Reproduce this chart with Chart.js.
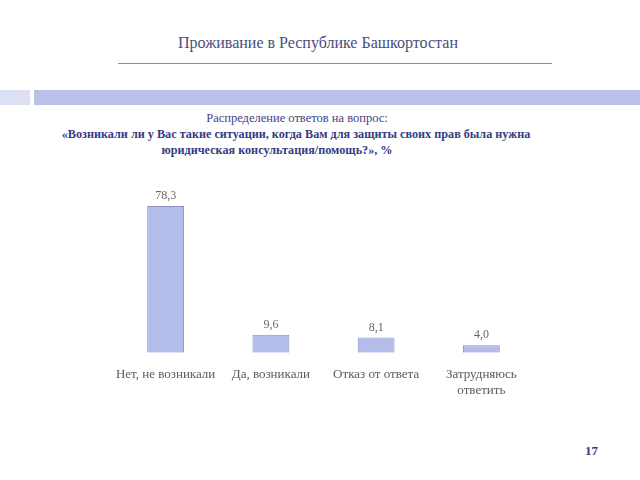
<!DOCTYPE html>
<html><head><meta charset="utf-8">
<script src="https://cdn.jsdelivr.net/npm/chart.js@4"></script>
<style>
html,body{margin:0;padding:0;background:#fff;}
</style></head>
<body>
<div id="wrap" style="position:relative;width:640px;height:480px;overflow:hidden;">
<div style="position:absolute;white-space:nowrap;left:0;width:636px;top:34px;text-align:center;font-family:'Liberation Serif';font-size:16px;color:#4a4e80;">Проживание в Республике Башкортостан</div>
<div style="position:absolute;left:118px;width:434px;top:63px;height:1px;background:#8a8aa8;"></div>
<div style="position:absolute;left:0;top:90px;width:30px;height:15px;background:#dde0f2;"></div>
<div style="position:absolute;left:34px;top:90px;width:606px;height:15px;background:#b8c1ea;"></div>
<div style="position:absolute;white-space:nowrap;left:0;width:594px;top:111px;text-align:center;font-family:'Liberation Serif';font-size:12.5px;color:#3d4585;">Распределение ответов на вопрос:</div>
<div style="position:absolute;white-space:nowrap;left:0;width:592px;top:127px;text-align:center;font-family:'Liberation Serif';font-size:12.2px;font-weight:bold;color:#343c80;">«Возникали ли у Вас такие ситуации, когда Вам для защиты своих прав была нужна</div>
<div style="position:absolute;white-space:nowrap;left:0;width:554px;top:143px;text-align:center;font-family:'Liberation Serif';font-size:12.2px;font-weight:bold;color:#343c80;">юридическая консультация/помощь?», %</div>
<div style="position:absolute;white-space:nowrap;left:585px;top:443px;font-family:'Liberation Serif';font-size:13px;font-weight:bold;color:#343c80;">17</div>
<canvas id="cv" width="640" height="480" style="position:absolute;left:0;top:0;"></canvas>
</div>
<script>
const categories = ["Нет, не возникали", "Да, возникали", "Отказ от ответа", ["Затрудняюсь", "ответить"]];
const values = [78.3, 9.6, 8.1, 4.0];
const valueLabels = ["78,3", "9,6", "8,1", "4,0"];

const SERIF = '"Liberation Serif"';
Chart.defaults.font.family = SERIF;

const labelPlugin = {
  id: 'vlabels',
  afterDatasetsDraw(chart) {
    const ctx = chart.ctx;
    const meta = chart.getDatasetMeta(0);
    ctx.save();
    ctx.font = '12px "Liberation Serif"';
    ctx.fillStyle = '#666666';
    ctx.textAlign = 'center';
    ctx.textBaseline = 'bottom';
    meta.data.forEach((bar, i) => {
      ctx.fillText(valueLabels[i], bar.x, bar.y - 4);
    });
    ctx.restore();
  }
};

new Chart(document.getElementById('cv'), {
  type: 'bar',
  data: {
    labels: categories,
    datasets: [{
      data: values,
      backgroundColor: '#b4bdea',
      borderColor: '#8a92c4',
      borderWidth: 1,
      borderSkipped: 'bottom',
      barPercentage: 0.35,
      categoryPercentage: 1.0
    }]
  },
  options: {
    responsive: false,
    animation: false,
    layout: { padding: { left: 113, right: 106, top: 184, bottom: 76 } },
    plugins: { legend: { display: false }, tooltip: { enabled: false } },
    scales: {
      x: {
        grid: { display: false },
        border: { display: false },
        ticks: { color: '#5a5a5a', font: { family: SERIF, size: 13 }, padding: 6, maxRotation: 0, autoSkip: false }
      },
      y: { display: false, min: 0, max: 90 }
    }
  },
  plugins: [labelPlugin]
});
</script>
</body></html>
